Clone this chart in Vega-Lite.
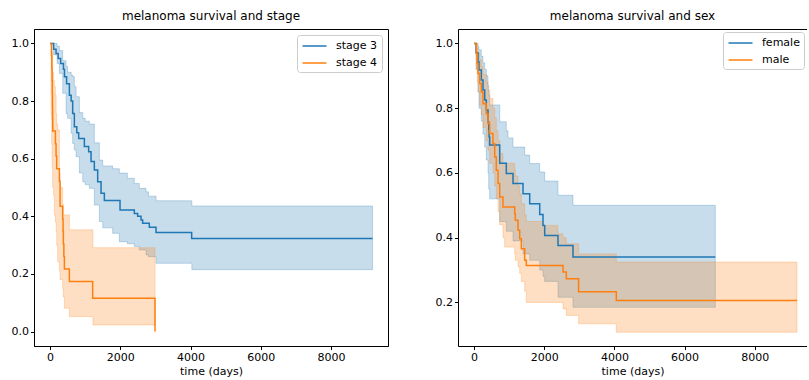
{
  "$schema": "https://vega.github.io/schema/vega-lite/v6.json",
  "padding": {"left": 10, "top": 9, "right": 0, "bottom": 0},
  "background": "white",
  "datasets": {
    "stage_line": [
      {"group": "stage 3", "t": 0, "S": 1.0}, {"group": "stage 3", "t": 100, "S": 0.98}, {"group": "stage 3", "t": 170, "S": 0.965}, {"group": "stage 3", "t": 230, "S": 0.948}, {"group": "stage 3", "t": 300, "S": 0.93}, {"group": "stage 3", "t": 380, "S": 0.91}, {"group": "stage 3", "t": 410, "S": 0.884}, {"group": "stage 3", "t": 470, "S": 0.86}, {"group": "stage 3", "t": 549, "S": 0.82}, {"group": "stage 3", "t": 600, "S": 0.8}, {"group": "stage 3", "t": 643, "S": 0.757}, {"group": "stage 3", "t": 691, "S": 0.711}, {"group": "stage 3", "t": 760, "S": 0.69}, {"group": "stage 3", "t": 814, "S": 0.67}, {"group": "stage 3", "t": 976, "S": 0.642}, {"group": "stage 3", "t": 1098, "S": 0.624}, {"group": "stage 3", "t": 1166, "S": 0.59}, {"group": "stage 3", "t": 1260, "S": 0.561}, {"group": "stage 3", "t": 1355, "S": 0.52}, {"group": "stage 3", "t": 1451, "S": 0.48}, {"group": "stage 3", "t": 1545, "S": 0.455}, {"group": "stage 3", "t": 1991, "S": 0.422}, {"group": "stage 3", "t": 2398, "S": 0.41}, {"group": "stage 3", "t": 2492, "S": 0.4}, {"group": "stage 3", "t": 2589, "S": 0.387}, {"group": "stage 3", "t": 2635, "S": 0.376}, {"group": "stage 3", "t": 2825, "S": 0.362}, {"group": "stage 3", "t": 3016, "S": 0.344}, {"group": "stage 3", "t": 4030, "S": 0.323}, {"group": "stage 3", "t": 9180, "S": 0.323},
      {"group": "stage 4", "t": 0, "S": 1.0}, {"group": "stage 4", "t": 40, "S": 0.957}, {"group": "stage 4", "t": 50, "S": 0.913}, {"group": "stage 4", "t": 57, "S": 0.87}, {"group": "stage 4", "t": 63, "S": 0.826}, {"group": "stage 4", "t": 68, "S": 0.783}, {"group": "stage 4", "t": 72, "S": 0.739}, {"group": "stage 4", "t": 76, "S": 0.696}, {"group": "stage 4", "t": 151, "S": 0.652}, {"group": "stage 4", "t": 170, "S": 0.609}, {"group": "stage 4", "t": 188, "S": 0.565}, {"group": "stage 4", "t": 265, "S": 0.522}, {"group": "stage 4", "t": 284, "S": 0.435}, {"group": "stage 4", "t": 358, "S": 0.391}, {"group": "stage 4", "t": 370, "S": 0.348}, {"group": "stage 4", "t": 378, "S": 0.304}, {"group": "stage 4", "t": 392, "S": 0.261}, {"group": "stage 4", "t": 407, "S": 0.217}, {"group": "stage 4", "t": 549, "S": 0.174}, {"group": "stage 4", "t": 1212, "S": 0.116}, {"group": "stage 4", "t": 2987, "S": 0.0}
    ],
    "stage_band": [
      {"group": "stage 3", "t": 0, "lo": 1.0, "hi": 1.0}, {"group": "stage 3", "t": 100, "lo": 0.96, "hi": 1.0}, {"group": "stage 3", "t": 200, "lo": 0.93, "hi": 0.99}, {"group": "stage 3", "t": 265, "lo": 0.896, "hi": 0.975}, {"group": "stage 3", "t": 360, "lo": 0.827, "hi": 0.94}, {"group": "stage 3", "t": 455, "lo": 0.757, "hi": 0.92}, {"group": "stage 3", "t": 500, "lo": 0.74, "hi": 0.9}, {"group": "stage 3", "t": 600, "lo": 0.688, "hi": 0.89}, {"group": "stage 3", "t": 643, "lo": 0.653, "hi": 0.885}, {"group": "stage 3", "t": 690, "lo": 0.63, "hi": 0.85}, {"group": "stage 3", "t": 740, "lo": 0.607, "hi": 0.815}, {"group": "stage 3", "t": 834, "lo": 0.55, "hi": 0.76}, {"group": "stage 3", "t": 930, "lo": 0.52, "hi": 0.74}, {"group": "stage 3", "t": 1000, "lo": 0.51, "hi": 0.73}, {"group": "stage 3", "t": 1118, "lo": 0.497, "hi": 0.72}, {"group": "stage 3", "t": 1260, "lo": 0.439, "hi": 0.655}, {"group": "stage 3", "t": 1403, "lo": 0.382, "hi": 0.595}, {"group": "stage 3", "t": 1500, "lo": 0.36, "hi": 0.575}, {"group": "stage 3", "t": 1780, "lo": 0.341, "hi": 0.565}, {"group": "stage 3", "t": 1972, "lo": 0.312, "hi": 0.55}, {"group": "stage 3", "t": 2200, "lo": 0.305, "hi": 0.532}, {"group": "stage 3", "t": 2398, "lo": 0.295, "hi": 0.514}, {"group": "stage 3", "t": 2540, "lo": 0.283, "hi": 0.497}, {"group": "stage 3", "t": 2731, "lo": 0.266, "hi": 0.485}, {"group": "stage 3", "t": 2800, "lo": 0.26, "hi": 0.47}, {"group": "stage 3", "t": 3016, "lo": 0.237, "hi": 0.454}, {"group": "stage 3", "t": 4035, "lo": 0.215, "hi": 0.436}, {"group": "stage 3", "t": 9180, "lo": 0.215, "hi": 0.436},
      {"group": "stage 4", "t": 0, "lo": 1.0, "hi": 1.0}, {"group": "stage 4", "t": 28, "lo": 0.75, "hi": 1.0}, {"group": "stage 4", "t": 45, "lo": 0.65, "hi": 0.99}, {"group": "stage 4", "t": 57, "lo": 0.57, "hi": 0.97}, {"group": "stage 4", "t": 74, "lo": 0.5, "hi": 0.9}, {"group": "stage 4", "t": 100, "lo": 0.474, "hi": 0.87}, {"group": "stage 4", "t": 122, "lo": 0.405, "hi": 0.85}, {"group": "stage 4", "t": 151, "lo": 0.38, "hi": 0.82}, {"group": "stage 4", "t": 171, "lo": 0.347, "hi": 0.757}, {"group": "stage 4", "t": 188, "lo": 0.3, "hi": 0.72}, {"group": "stage 4", "t": 216, "lo": 0.243, "hi": 0.7}, {"group": "stage 4", "t": 265, "lo": 0.21, "hi": 0.55}, {"group": "stage 4", "t": 284, "lo": 0.18, "hi": 0.5}, {"group": "stage 4", "t": 358, "lo": 0.15, "hi": 0.44}, {"group": "stage 4", "t": 378, "lo": 0.12, "hi": 0.405}, {"group": "stage 4", "t": 407, "lo": 0.081, "hi": 0.405}, {"group": "stage 4", "t": 549, "lo": 0.052, "hi": 0.353}, {"group": "stage 4", "t": 1220, "lo": 0.023, "hi": 0.291}, {"group": "stage 4", "t": 2987, "lo": 0.023, "hi": 0.291}
    ],
    "sex_line": [
      {"group": "female", "t": 0, "S": 1.0}, {"group": "female", "t": 60, "S": 0.971}, {"group": "female", "t": 114, "S": 0.943}, {"group": "female", "t": 142, "S": 0.918}, {"group": "female", "t": 208, "S": 0.887}, {"group": "female", "t": 256, "S": 0.856}, {"group": "female", "t": 305, "S": 0.825}, {"group": "female", "t": 350, "S": 0.794}, {"group": "female", "t": 399, "S": 0.758}, {"group": "female", "t": 419, "S": 0.735}, {"group": "female", "t": 430, "S": 0.711}, {"group": "female", "t": 447, "S": 0.686}, {"group": "female", "t": 732, "S": 0.63}, {"group": "female", "t": 920, "S": 0.598}, {"group": "female", "t": 1111, "S": 0.567}, {"group": "female", "t": 1396, "S": 0.536}, {"group": "female", "t": 1587, "S": 0.505}, {"group": "female", "t": 1872, "S": 0.472}, {"group": "female", "t": 1966, "S": 0.438}, {"group": "female", "t": 2014, "S": 0.407}, {"group": "female", "t": 2393, "S": 0.376}, {"group": "female", "t": 2820, "S": 0.34}, {"group": "female", "t": 6875, "S": 0.34},
      {"group": "male", "t": 0, "S": 1.0}, {"group": "male", "t": 66, "S": 0.969}, {"group": "male", "t": 90, "S": 0.938}, {"group": "male", "t": 114, "S": 0.907}, {"group": "male", "t": 162, "S": 0.876}, {"group": "male", "t": 208, "S": 0.85}, {"group": "male", "t": 256, "S": 0.814}, {"group": "male", "t": 350, "S": 0.783}, {"group": "male", "t": 399, "S": 0.753}, {"group": "male", "t": 447, "S": 0.722}, {"group": "male", "t": 541, "S": 0.69}, {"group": "male", "t": 590, "S": 0.649}, {"group": "male", "t": 635, "S": 0.608}, {"group": "male", "t": 684, "S": 0.567}, {"group": "male", "t": 732, "S": 0.526}, {"group": "male", "t": 826, "S": 0.495}, {"group": "male", "t": 1160, "S": 0.474}, {"group": "male", "t": 1177, "S": 0.454}, {"group": "male", "t": 1254, "S": 0.423}, {"group": "male", "t": 1302, "S": 0.397}, {"group": "male", "t": 1348, "S": 0.366}, {"group": "male", "t": 1444, "S": 0.33}, {"group": "male", "t": 1490, "S": 0.314}, {"group": "male", "t": 2536, "S": 0.294}, {"group": "male", "t": 2630, "S": 0.273}, {"group": "male", "t": 2980, "S": 0.233}, {"group": "male", "t": 4054, "S": 0.206}, {"group": "male", "t": 9202, "S": 0.206}
    ],
    "sex_band": [
      {"group": "female", "t": 0, "lo": 1.0, "hi": 1.0}, {"group": "female", "t": 60, "lo": 0.92, "hi": 1.0}, {"group": "female", "t": 114, "lo": 0.85, "hi": 0.99}, {"group": "female", "t": 142, "lo": 0.8, "hi": 0.98}, {"group": "female", "t": 208, "lo": 0.76, "hi": 0.96}, {"group": "female", "t": 256, "lo": 0.72, "hi": 0.94}, {"group": "female", "t": 305, "lo": 0.68, "hi": 0.92}, {"group": "female", "t": 350, "lo": 0.64, "hi": 0.9}, {"group": "female", "t": 399, "lo": 0.6, "hi": 0.87}, {"group": "female", "t": 419, "lo": 0.55, "hi": 0.84}, {"group": "female", "t": 447, "lo": 0.52, "hi": 0.81}, {"group": "female", "t": 732, "lo": 0.45, "hi": 0.758}, {"group": "female", "t": 920, "lo": 0.42, "hi": 0.73}, {"group": "female", "t": 969, "lo": 0.42, "hi": 0.708}, {"group": "female", "t": 1111, "lo": 0.39, "hi": 0.68}, {"group": "female", "t": 1396, "lo": 0.35, "hi": 0.68}, {"group": "female", "t": 1444, "lo": 0.35, "hi": 0.655}, {"group": "female", "t": 1587, "lo": 0.33, "hi": 0.629}, {"group": "female", "t": 1872, "lo": 0.3, "hi": 0.603}, {"group": "female", "t": 1966, "lo": 0.28, "hi": 0.603}, {"group": "female", "t": 2014, "lo": 0.265, "hi": 0.575}, {"group": "female", "t": 2393, "lo": 0.216, "hi": 0.531}, {"group": "female", "t": 2820, "lo": 0.185, "hi": 0.5}, {"group": "female", "t": 6875, "lo": 0.185, "hi": 0.5},
      {"group": "male", "t": 0, "lo": 1.0, "hi": 1.0}, {"group": "male", "t": 66, "lo": 0.92, "hi": 1.0}, {"group": "male", "t": 90, "lo": 0.88, "hi": 0.985}, {"group": "male", "t": 114, "lo": 0.85, "hi": 0.97}, {"group": "male", "t": 162, "lo": 0.81, "hi": 0.95}, {"group": "male", "t": 208, "lo": 0.78, "hi": 0.93}, {"group": "male", "t": 256, "lo": 0.74, "hi": 0.905}, {"group": "male", "t": 350, "lo": 0.7, "hi": 0.88}, {"group": "male", "t": 399, "lo": 0.67, "hi": 0.855}, {"group": "male", "t": 447, "lo": 0.63, "hi": 0.83}, {"group": "male", "t": 541, "lo": 0.6, "hi": 0.8}, {"group": "male", "t": 590, "lo": 0.56, "hi": 0.77}, {"group": "male", "t": 635, "lo": 0.52, "hi": 0.73}, {"group": "male", "t": 684, "lo": 0.48, "hi": 0.7}, {"group": "male", "t": 732, "lo": 0.44, "hi": 0.66}, {"group": "male", "t": 826, "lo": 0.4, "hi": 0.63}, {"group": "male", "t": 874, "lo": 0.371, "hi": 0.63}, {"group": "male", "t": 1160, "lo": 0.35, "hi": 0.61}, {"group": "male", "t": 1177, "lo": 0.33, "hi": 0.59}, {"group": "male", "t": 1254, "lo": 0.31, "hi": 0.56}, {"group": "male", "t": 1302, "lo": 0.29, "hi": 0.535}, {"group": "male", "t": 1348, "lo": 0.265, "hi": 0.505}, {"group": "male", "t": 1444, "lo": 0.235, "hi": 0.47}, {"group": "male", "t": 1490, "lo": 0.2, "hi": 0.45}, {"group": "male", "t": 1966, "lo": 0.2, "hi": 0.438}, {"group": "male", "t": 2393, "lo": 0.2, "hi": 0.412}, {"group": "male", "t": 2536, "lo": 0.18, "hi": 0.4}, {"group": "male", "t": 2630, "lo": 0.16, "hi": 0.381}, {"group": "male", "t": 2980, "lo": 0.134, "hi": 0.35}, {"group": "male", "t": 4054, "lo": 0.108, "hi": 0.325}, {"group": "male", "t": 9202, "lo": 0.108, "hi": 0.325}
    ]
  },
  "hconcat": [
    {
      "title": "melanoma survival and stage",
      "width": 354,
      "height": 317,
      "layer": [
        {
          "data": {"name": "stage_band"},
          "mark": {"type": "area", "interpolate": "step-after", "fillOpacity": 0.25, "strokeOpacity": 0.25, "strokeWidth": 1},
          "encoding": {
            "x": {"field": "t", "type": "quantitative", "scale": {"domain": [-458, 9620], "nice": false, "zero": false}, "axis": {"values": [0, 2000, 4000, 6000, 8000], "format": "d", "title": "time (days)"}},
            "y": {"field": "lo", "type": "quantitative", "scale": {"domain": [-0.05, 1.05], "nice": false, "zero": false}, "axis": {"values": [0, 0.2, 0.4, 0.6, 0.8, 1.0], "format": ".1f", "title": null}},
            "y2": {"field": "hi"},
            "color": {"field": "group", "type": "nominal", "scale": {"domain": ["stage 3", "stage 4"], "range": ["#1f77b4", "#ff7f0e"]}, "legend": {"orient": "top-right", "offset": 6, "title": null, "symbolType": "M-2,0H2", "symbolOpacity": 1, "symbolFillOpacity": 1, "symbolStrokeWidth": 1.5}},
            "stroke": {"field": "group", "type": "nominal", "scale": {"domain": ["stage 3", "stage 4"], "range": ["#1f77b4", "#ff7f0e"]}, "legend": {"orient": "top-right", "offset": 6, "title": null, "symbolType": "M-2,0H2", "symbolOpacity": 1, "symbolStrokeWidth": 1.5}}
          }
        },
        {
          "data": {"name": "stage_line"},
          "mark": {"type": "line", "interpolate": "step-after", "strokeWidth": 1.5},
          "encoding": {
            "x": {"field": "t", "type": "quantitative"},
            "y": {"field": "S", "type": "quantitative"},
            "color": {"field": "group", "type": "nominal"}
          }
        }
      ]
    },
    {
      "title": "melanoma survival and sex",
      "width": 349,
      "height": 317,
      "view": {"stroke": null},
      "resolve": {"axis": {"x": "independent"}},
      "layer": [
        {
          "data": {"name": "sex_band"},
          "mark": {"type": "area", "interpolate": "step-after", "fillOpacity": 0.25, "strokeOpacity": 0.25, "strokeWidth": 1},
          "encoding": {
            "x": {"field": "t", "type": "quantitative", "scale": {"domain": [-456, 9487], "nice": false, "zero": false}, "axis": {"orient": "top", "labels": false, "ticks": false, "title": null}},
            "y": {"field": "lo", "type": "quantitative", "scale": {"domain": [0.0655, 1.0445], "nice": false, "zero": false}, "axis": {"values": [0.2, 0.4, 0.6, 0.8, 1.0], "format": ".1f", "title": null}},
            "y2": {"field": "hi"},
            "color": {"field": "group", "type": "nominal", "scale": {"domain": ["female", "male"], "range": ["#1f77b4", "#ff7f0e"]}, "legend": {"orient": "top-right", "offset": 3, "title": null, "symbolType": "M-2,0H2", "symbolOpacity": 1, "symbolFillOpacity": 1, "symbolStrokeWidth": 1.5}},
            "stroke": {"field": "group", "type": "nominal", "scale": {"domain": ["female", "male"], "range": ["#1f77b4", "#ff7f0e"]}, "legend": {"orient": "top-right", "offset": 3, "title": null, "symbolType": "M-2,0H2", "symbolOpacity": 1, "symbolStrokeWidth": 1.5}}
          }
        },
        {
          "data": {"name": "sex_line"},
          "mark": {"type": "line", "interpolate": "step-after", "strokeWidth": 1.5},
          "encoding": {
            "x": {"field": "t", "type": "quantitative", "axis": {"values": [0, 2000, 4000, 6000, 8000], "format": "d", "title": "time (days)"}},
            "y": {"field": "S", "type": "quantitative"},
            "color": {"field": "group", "type": "nominal"}
          }
        }
      ]
    }
  ],
  "spacing": 46,
  "resolve": {"scale": {"color": "independent", "stroke": "independent", "x": "independent", "y": "independent"}, "legend": {"color": "independent", "stroke": "independent"}},
  "config": {
    "font": "DejaVu Sans",
    "view": {"stroke": "black", "strokeWidth": 1},
    "axis": {"grid": false, "domainColor": "black", "tickColor": "black", "labelColor": "black", "titleColor": "black", "tickSize": 3.5, "labelFontSize": 11, "titleFontSize": 11, "titleFontWeight": "normal", "labelPadding": 2, "titlePadding": 3, "labelFont": "DejaVu Sans", "titleFont": "DejaVu Sans"},
    "title": {"fontSize": 12, "fontWeight": "normal", "font": "DejaVu Sans", "color": "black", "offset": 6},
    "legend": {"fillColor": "white", "strokeColor": "#cccccc", "cornerRadius": 3, "padding": 4, "labelFontSize": 11, "labelFont": "DejaVu Sans", "labelColor": "black", "symbolSize": 144, "symbolOffset": 6.5, "labelOffset": 14.5, "rowPadding": 5}
  }
}
